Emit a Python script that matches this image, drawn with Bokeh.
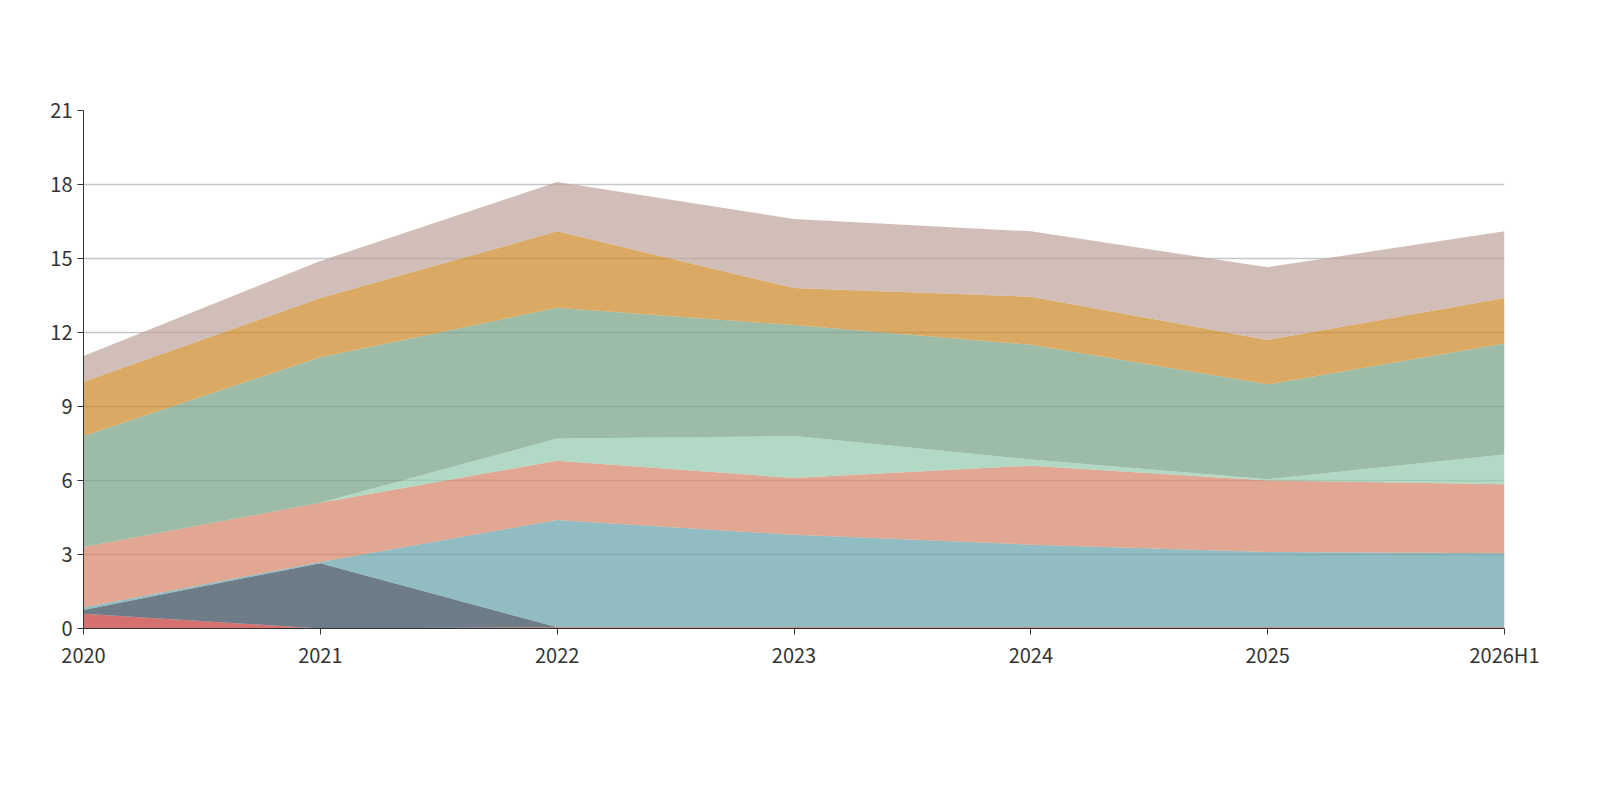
import math
from bokeh.plotting import figure
from bokeh.models import ColumnDataSource, Legend, LegendItem, Label, FixedTicker, Range1d
from bokeh.embed import file_html
from bokeh.resources import INLINE

years = ["2020", "2021", "2022", "2023", "2024", "2025", "2026H1"]
other_noncurrent = [0.6, 0.0, 0.05, 0.05, 0.05, 0.05, 0.05]
construction = [0.15, 2.65, 0.0, 0.0, 0.0, 0.0, 0.0]
fixed_assets = [0.1, 0.05, 4.35, 3.75, 3.35, 3.05, 3.0]
inventory = [2.45, 2.4, 2.4, 2.3, 3.2, 2.9, 2.8]
trading_fin = [0.0, 0.0, 0.9, 1.7, 0.25, 0.05, 1.2]
receivables = [4.5, 5.9, 5.3, 4.5, 4.65, 3.85, 4.5]
cash = [2.2, 2.4, 3.1, 1.5, 1.95, 1.8, 1.85]
others = [1.05, 1.5, 2.0, 2.8, 2.65, 2.95, 2.7]

names = ["其他非流动资产", "在建工程合计", "固定资产", "存货", "交易性金融资产合计", "应收票据及应收账款", "货币", "其他"]
colors = ["#c23531", "#2f4554", "#61a0a8", "#d48265", "#91c7ae", "#749f83", "#ca8622", "#bda29a"]
series = [other_noncurrent, construction, fixed_assets, inventory, trading_fin, receivables, cash, others]

keys = ["s%d" % i for i in range(len(series))]
data = {"x": list(range(len(years)))}
for k, s in zip(keys, series):
    data[k] = s
src = ColumnDataSource(data)

FONT = "Noto Sans CJK SC"
p = figure(width=1584, height=784, output_backend="svg", toolbar_location=None,
           x_range=Range1d(0, len(years) - 1), y_range=Range1d(0, 21),
           min_border_left=83, min_border_right=80, min_border_top=110, min_border_bottom=156)

p.varea_stack(keys, x="x", source=src, color=colors, fill_alpha=0.7)

p.xaxis.ticker = FixedTicker(ticks=list(range(len(years))))
p.xaxis.major_label_overrides = {i: y for i, y in enumerate(years)}
p.yaxis.ticker = FixedTicker(ticks=list(range(0, 22, 3)))
for ax in (p.xaxis, p.yaxis):
    ax.major_label_text_font_size = "20px"
    ax.major_label_text_color = "#333333"
    ax.major_label_text_font = FONT
    ax.axis_line_color = "#333333"
    ax.major_tick_line_color = "#333333"
    ax.minor_tick_line_color = None
    ax.major_tick_out = 6
    ax.major_tick_in = 0
p.xgrid.grid_line_color = None
p.ygrid.grid_line_color = "#c8c8c8"
p.ygrid.grid_line_width = 1.5
p.outline_line_color = None

p.add_layout(Label(x=2.95, y=25.15, text="历年主要资产堆积图", text_align="center", text_baseline="middle",
                   text_font=FONT, text_font_size="30px", text_font_style="bold", text_color="#333333"))
p.add_layout(Label(x=-0.26, y=19.9, text="(亿元)", text_align="center", text_baseline="middle",
                   angle=math.pi / 2, text_font=FONT, text_font_size="16px", text_color="red"))
p.add_layout(Label(x=2.95, y=-8.28, text="制图数据来自恒生聚源数据库", text_align="center", text_baseline="middle",
                   text_font=FONT, text_font_size="16px", text_color="#d4a017"))
p.add_layout(Label(x=6.06, y=-5.8, text="1/2", text_align="center", text_baseline="middle",
                   text_font=FONT, text_font_size="20px", text_color="#333333"))
p.add_layout(Label(x=5.86, y=-5.8, text="◀", text_align="center", text_baseline="middle",
                   text_font="DejaVu Sans", text_font_size="24px", text_color="#aaaaaa"))
p.add_layout(Label(x=6.27, y=-5.8, text="▶", text_align="center", text_baseline="middle",
                   text_font="DejaVu Sans", text_font_size="24px", text_color="#2f4554"))

items = []
for n, c in zip(names[:7], colors[:7]):
    r1 = p.line([], [], color=c, line_width=1.5)
    r2 = p.scatter([], [], color=c, size=20, marker="circle")
    items.append(LegendItem(label=n, renderers=[r1, r2]))
leg = Legend(items=items, orientation="horizontal", location=(-92, -148),
             label_text_font_size="20px", label_text_font=FONT,
             label_text_color="#333333", border_line_color=None, background_fill_alpha=0,
             glyph_width=50, glyph_height=24, label_standoff=8, spacing=22, padding=0, margin=0)
p.add_layout(leg)

open("out.html", "w").write(file_html(p, INLINE))
